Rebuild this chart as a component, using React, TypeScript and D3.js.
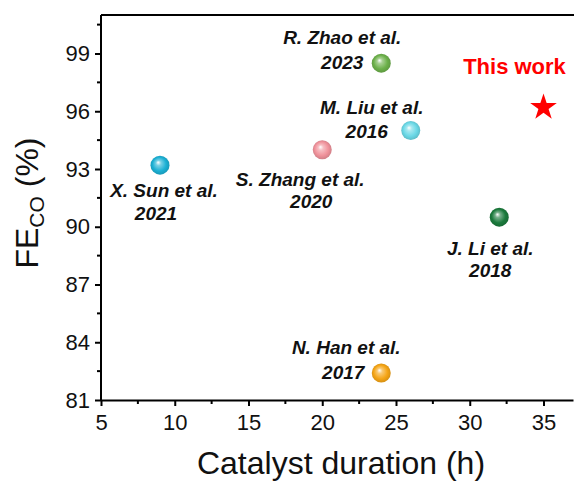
import React, { useEffect, useRef } from 'react';
import * as d3 from 'd3';

// literature points: duration (h) vs FE_CO (%)
const refNames = ['X. Sun et al.', 'S. Zhang et al.', 'R. Zhao et al.', 'M. Liu et al.', 'J. Li et al.', 'N. Han et al.'];
const refYears = ['2021', '2020', '2023', '2016', '2018', '2017'];
const refDuration = [9, 20, 24, 26, 32, 24];
const refFE = [93.2, 94, 98.5, 95, 90.5, 82.4];
const refColors = ['#1cb0d4', '#f0929b', '#6cb04a', '#6ad8e6', '#1b7a3c', '#f5a516'];

const thisWork = { name: 'This work', duration: 35, fe: 96.2 };

const xTicks = [5, 10, 15, 20, 25, 30, 35];
const yTicks = [81, 84, 87, 90, 93, 96, 99];

// label placement relative to each point (px)
const labelPos = [
  { l1: [4, 25], l2: [-4, 48] },
  { l1: [-22, 29], l2: [-11, 51] },
  { l1: [-39, -26], l2: [-39, -1] },
  { l1: [-39, -24], l2: [-44, 0] },
  { l1: [-9, 31], l2: [-9, 53] },
  { l1: [-35, -26], l2: [-38, -1] },
];

export default function App() {
  const ref = useRef<SVGSVGElement>(null);

  useEffect(() => {
    const svg = d3.select(ref.current);
    svg.selectAll('*').remove();

    const W = 574, H = 481;
    const m = { top: 15, right: 1, bottom: 81, left: 101 };
    const font = 'Liberation Sans, Arial, Helvetica, sans-serif';

    const x = d3.scaleLinear().domain([5, 37]).range([m.left, W - m.right]);
    const y = d3.scaleLinear().domain([81, 101]).range([H - m.bottom, m.top]);

    const defs = svg.append('defs');
    refColors.forEach((c, i) => {
      const g = defs.append('radialGradient')
        .attr('id', `ball${i}`)
        .attr('cx', '50%').attr('cy', '50%').attr('r', '55%')
        .attr('fx', '40%').attr('fy', '35%');
      g.append('stop').attr('offset', '0%').attr('stop-color', '#ffffff');
      g.append('stop').attr('offset', '25%').attr('stop-color', d3.interpolateRgb('#ffffff', c)(0.6));
      g.append('stop').attr('offset', '65%').attr('stop-color', c);
      g.append('stop').attr('offset', '100%').attr('stop-color', d3.color(c)!.darker(0.5).formatHex());
    });

    // frame
    svg.append('line')
      .attr('x1', m.left).attr('x2', W + 5)
      .attr('y1', m.top).attr('y2', m.top)
      .attr('stroke', '#000').attr('stroke-width', 2);

    const xAxis = svg.append('g')
      .attr('transform', `translate(0,${H - m.bottom})`)
      .call(d3.axisBottom(x).tickValues(xTicks).tickSize(6).tickSizeOuter(0).tickPadding(8));
    xAxis.append('g').selectAll('line')
      .data(xTicks.map(t => t + 2.5))
      .join('line')
      .attr('x1', d => x(d)).attr('x2', d => x(d))
      .attr('y1', 0).attr('y2', 4)
      .attr('stroke', '#000').attr('stroke-width', 2);

    const yAxis = svg.append('g')
      .attr('transform', `translate(${m.left},0)`)
      .call(d3.axisLeft(y).tickValues(yTicks).tickSize(6).tickSizeOuter(0).tickPadding(5));
    yAxis.append('g').selectAll('line')
      .data(yTicks.map(t => t + 1.5))
      .join('line')
      .attr('y1', d => y(d)).attr('y2', d => y(d))
      .attr('x1', 0).attr('x2', -4)
      .attr('stroke', '#000').attr('stroke-width', 2);

    [xAxis, yAxis].forEach(a => {
      a.select('.domain').attr('stroke-width', 2).attr('stroke', '#000');
      a.selectAll('.tick line').attr('stroke-width', 2);
      a.selectAll('.tick text')
        .attr('font-family', font).attr('font-size', 22).attr('fill', '#111');
    });
    yAxis.select('.domain').attr('d', `M0,${H - m.bottom}V${m.top}`);

    // axis titles
    svg.append('text')
      .attr('x', 341).attr('y', 474)
      .attr('text-anchor', 'middle')
      .attr('font-family', font).attr('font-size', 32).attr('fill', '#111')
      .text('Catalyst duration (h)');

    const yt = svg.append('text')
      .attr('transform', 'translate(38,203) rotate(-90)')
      .attr('text-anchor', 'middle')
      .attr('font-family', font).attr('font-size', 32).attr('fill', '#111');
    yt.append('tspan').text('FE');
    yt.append('tspan').attr('font-size', 21).attr('dy', 6).text('CO');
    yt.append('tspan').attr('dy', -6).text(' (%)');

    // reference points
    const pts = svg.append('g');
    refNames.forEach((n, i) => {
      const px = x(refDuration[i]), py = y(refFE[i]);
      pts.append('circle')
        .attr('cx', px).attr('cy', py).attr('r', 9.5)
        .attr('fill', `url(#ball${i})`);
      const lp = labelPos[i];
      [[n, lp.l1], [refYears[i], lp.l2]].forEach(([t, o]) => {
        const off = o as number[];
        pts.append('text')
          .attr('x', px + off[0]).attr('y', py + off[1] + 7)
          .attr('text-anchor', 'middle')
          .attr('font-family', font).attr('font-size', 19)
          .attr('font-weight', 'bold').attr('font-style', 'italic')
          .attr('fill', '#111')
          .text(t as string);
      });
    });

    // this work
    const sx = x(thisWork.duration), sy = y(thisWork.fe);
    svg.append('path')
      .attr('transform', `translate(${sx},${sy})`)
      .attr('d', d3.symbol(d3.symbolStar, 220)())
      .attr('fill', '#ff0000');
    svg.append('text')
      .attr('x', sx - 29).attr('y', sy - 41 + 8)
      .attr('text-anchor', 'middle')
      .attr('font-family', font).attr('font-size', 22).attr('font-weight', 'bold')
      .attr('fill', '#ff0000')
      .text(thisWork.name);
  }, []);

  return (
    <svg ref={ref} width={574} height={481} style={{ position: 'absolute', left: 0, top: 0, background: '#fff' }} />
  );
}
